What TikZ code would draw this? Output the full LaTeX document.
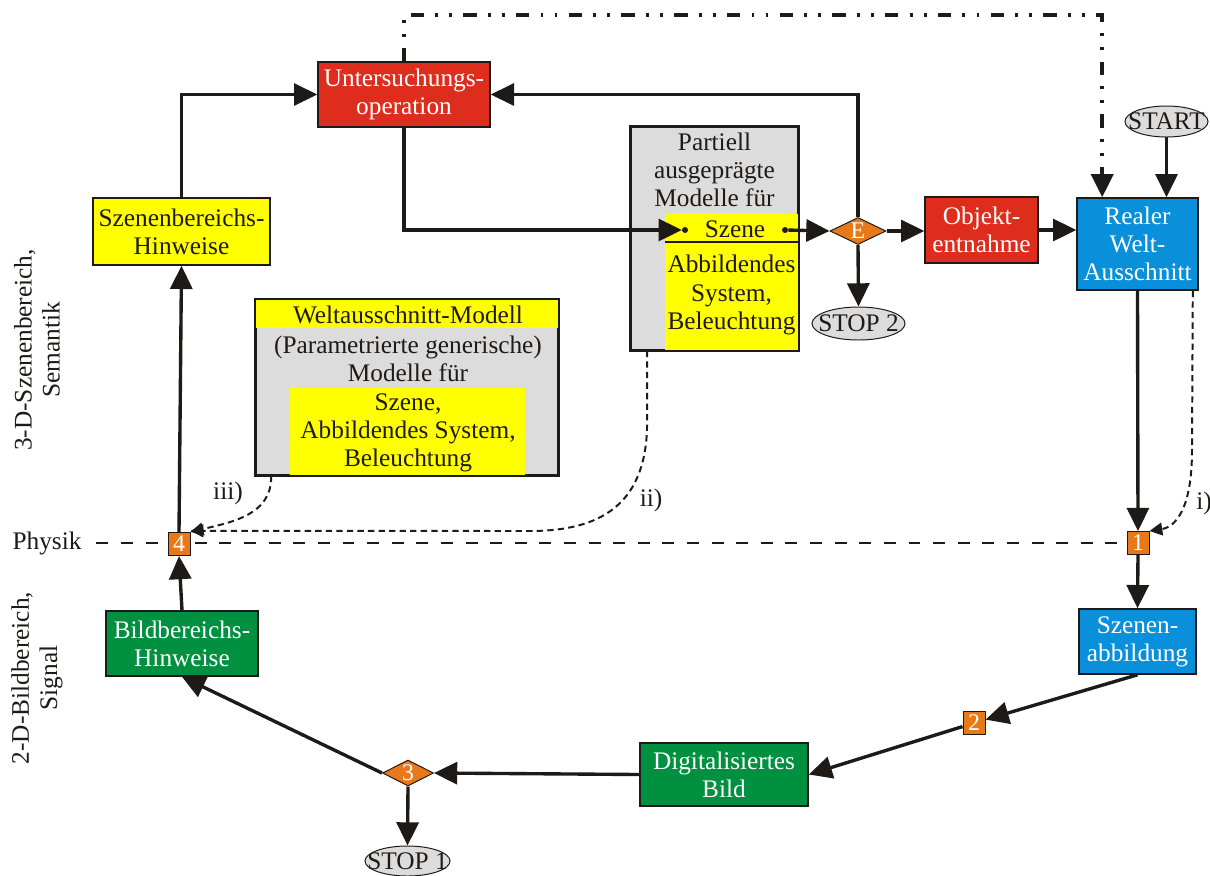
\documentclass[tikz,border=0pt]{standalone}
\usepackage{fontspec}
\setmainfont{Liberation Serif}
\usetikzlibrary{shapes.geometric,arrows.meta,calc}

\definecolor{boxred}{HTML}{DE2D1D}
\definecolor{boxblue}{HTML}{0A90DB}
\definecolor{boxgreen}{HTML}{009040}
\definecolor{boxyellow}{HTML}{FFFF00}
\definecolor{boxgray}{HTML}{DCDCDC}
\definecolor{markorange}{HTML}{E8791A}
\definecolor{ink}{HTML}{1E1A17}

\begin{document}
\begin{tikzpicture}[
  x=0.025cm, y=-0.025cm,
  txt/.style={font=\fontsize{18}{20}\selectfont, align=center, text=ink},
  box/.style={txt, draw=ink, line width=1.1pt, inner sep=0pt},
  redbox/.style={box, fill=boxred, text=white},
  bluebox/.style={box, fill=boxblue, text=white},
  greenbox/.style={box, fill=boxgreen, text=white},
  yellowbox/.style={box, fill=boxyellow},
  plainfill/.style={inner sep=0pt, draw=none},
  marker/.style={box, fill=markorange, text=white, minimum width=0.55cm,
                 minimum height=0.575cm, font=\fontsize{17}{18}\selectfont, line width=0.7pt},
  decision/.style={box, diamond, aspect=2, fill=markorange, text=white,
                   font=\fontsize{17}{18}\selectfont, line width=0.7pt},
  terminal/.style={box, ellipse, fill=boxgray, line width=0.7pt,
                   inner xsep=-8pt, inner ysep=-4pt},
  joint/.style={circle, fill=ink, inner sep=0pt, minimum size=0.15cm},
  flow/.style={draw=ink, line width=2.4pt, -{Triangle[length=0.58cm,width=0.55cm]}},
  hint/.style={draw=ink, line width=1.4pt, dash pattern=on 4.5pt off 3pt,
               -{Triangle[length=0.32cm,width=0.32cm]}},
  feedback/.style={draw=ink, line width=3pt,
                   dash pattern=on 9.5pt off 8pt on 2pt off 8pt on 2pt off 8pt,
                   -{Triangle[length=0.58cm,width=0.55cm]}},
  layer/.style={draw=ink, line width=2pt, dash pattern=on 8.5pt off 9pt}
]
\fill[white] (0,0) rectangle (1210,875);
\useasboundingbox (0,0) rectangle (1210,875);

% ---- axis labels on the left
\node[txt, rotate=90] (sem) at (37,350) {3-D-Szenenbereich,\\Semantik};
\node[txt, rotate=90] (sig) at (37,678) {2-D-Bildbereich,\\Signal};
\node[txt] (physik) at (47,543) {Physik};

% ---- process boxes
\node[redbox, minimum width=4.3cm, minimum height=1.625cm] (unt) at (404,94.5) {Untersuchungs-\\operation};
\node[yellowbox, minimum width=4.425cm, minimum height=1.675cm] (szb) at (181.5,231.5) {Szenenbereichs-\\Hinweise};
\node[redbox, minimum width=2.825cm, minimum height=1.65cm] (obj) at (981.5,230) {Objekt-\\entnahme};
\node[bluebox, minimum width=3.025cm, minimum height=2.3cm] (realer) at (1137.5,244) {Realer\\Welt-\\Ausschnitt};
\node[bluebox, minimum width=2.925cm, minimum height=1.625cm] (sza) at (1137.5,641.5) {Szenen-\\abbildung};
\node[greenbox, minimum width=4.2cm, minimum height=1.575cm] (dig) at (724,774.5) {Digitalisiertes\\Bild};
\node[greenbox, minimum width=3.8cm, minimum height=1.625cm] (bld) at (182,643.5) {Bildbereichs-\\Hinweise};

% ---- partially specified models
\node[box, fill=boxgray, minimum width=4.175cm, minimum height=5.575cm] (part) at (714.5,238.5) {};
\node[plainfill, fill=boxyellow, minimum width=3.325cm, minimum height=3.4cm] (partyel) at (731.5,282) {};
\draw[ink, line width=1.1pt] (part.south west) rectangle (part.north east);
\draw[ink, line width=1pt] (partyel.north west |- 0,242) -- (partyel.north east |- 0,242);
\node[txt] (parttxt) at (714.5,170) {Partiell\\ausgeprägte\\Modelle für};
\node[txt] (szene) at (735,229) {Szene};
\node[txt] (partlow) at (731.5,295) {Abbildendes\\System,\\Beleuchtung};
\node[joint] (szin) at (685,230) {};
\node[joint] (szout) at (785,230) {};

% ---- world section model
\node[box, fill=boxgray, minimum width=7.55cm, minimum height=4.375cm] (wm) at (407,387.5) {};
\node[plainfill, fill=boxyellow, minimum width=7.55cm, minimum height=0.7cm] (wmtop) at (407,314) {};
\node[plainfill, fill=boxyellow, minimum width=5.875cm, minimum height=2.175cm] (wmyel) at (407.5,431.5) {};
\draw[ink, line width=1.1pt] (wm.south west) rectangle (wm.north east);
\node[txt] (wmtitle) at (408,315) {Weltausschnitt-Modell};
\node[txt] (wmgen) at (408,359) {(Parametrierte generische)\\Modelle für};
\node[txt] (wmlist) at (408,433) {Szene,\\Abbildendes System,\\Beleuchtung};

% ---- layer boundary
\draw[layer] (physik.east) ++(10,0) -- (1127,543);

% ---- decisions, markers, terminals
\node[decision, minimum width=1.4cm, minimum height=0.675cm] (E) at (858,231) {E};
\node[decision, minimum width=1.275cm, minimum height=0.65cm] (d3) at (408,773) {3};
\node[marker] (m1) at (1138,543) {1};
\node[marker] (m2) at (974,723) {2};
\node[marker] (m4) at (179,544) {4};
\node[terminal, minimum width=2.075cm, minimum height=0.775cm] (start) at (1166.5,121.5) {START};
\node[terminal, minimum width=2.325cm, minimum height=0.825cm] (stop2) at (858.5,323.5) {STOP 2};
\node[terminal, minimum width=2.125cm, minimum height=0.75cm] (stop1) at (407.5,861) {STOP 1};

% ---- main flow
\draw[flow] (start.south) -- (start.south |- realer.north);
\draw[flow] (realer.south) -- (m1.north);
\draw[flow] (m1.south) -- (sza.north);
\draw[flow] (sza.south) -- (m2);
\draw[flow] (m2) -- (dig.east);
\draw[flow] (dig.west) -- (d3.east);
\draw[flow] (d3.south) -- (stop1.north);
\draw[flow] (d3.west) -- (bld.south);
\draw[flow] (bld.north) -- (m4.south);
\draw[flow] (m4.north) -- (szb.south);
\draw[flow] (szb.north) |- (unt.west);
\draw[flow] (unt.south) |- (szin);
\draw[flow] (szout) -- (E.west);
\draw[flow] (E.north) |- (unt.east);
\draw[flow] (E.south) -- (stop2.north);
\draw[flow] (E.east) -- (E.east -| obj.west);
\draw[flow] (obj.east) -- (obj.east -| realer.west);

% ---- feedback from the examination back into the real world
\draw[feedback] (unt.north) -- (404,15) -| ([xshift=0.65cm]realer.north west);

% ---- model knowledge flowing into the markers
\draw[hint] ([xshift=-0.15cm]realer.south east) -- (1192,450)
  .. controls (1192,510) and (1175,527) .. (m1.north east);
\draw[hint] ([xshift=0.425cm]part.south west) -- (647,430)
  .. controls (644,505) and (600,531) .. (530,531) -- ([yshift=0.03cm]m4.north east);
\draw[hint] ([xshift=0.4cm]wm.south west) .. controls (272,515) and (232,522) .. (m4.north east);
\node[txt, anchor=west, inner sep=0pt] (li) at (1196,503) {i)};
\node[txt] (lii) at (651,500) {ii)};
\node[txt] (liii) at (228,493) {iii)};
\end{tikzpicture}
\end{document}
